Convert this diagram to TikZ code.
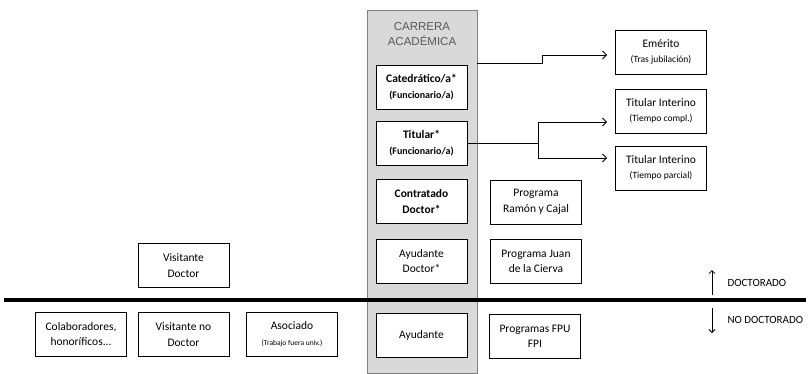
\documentclass[tikz,border=0pt]{standalone}
\usepackage{fontspec}
\setmainfont{Carlito}
\newfontfamily\titlefont{Liberation Sans}
\usetikzlibrary{arrows.meta}
\definecolor{colfill}{RGB}{217,217,217}
\definecolor{colline}{RGB}{128,128,128}
\definecolor{titlegray}{RGB}{89,89,89}
\newcommand{\nota}[1]{{\fontsize{9.5}{12}\selectfont #1}}
\newcommand{\notab}[1]{{\fontsize{10}{12}\selectfont\bfseries #1}}
\begin{document}
\begin{tikzpicture}[x=1pt,y=-1pt,
    cargo/.style={draw,fill=white,line width=0.8pt,minimum width=91pt,minimum height=44pt,
      inner sep=1pt,align=center,font=\fontsize{11.5}{15.5}\selectfont},
    columna/.style={draw=colline,fill=colfill,line width=0.8pt,minimum width=110pt,
      minimum height=363pt,inner sep=0pt},
    flecha/.style={-{Straight Barb[length=4pt,width=8pt]},line width=0.9pt},
    marca/.style={-{Straight Barb[length=3pt,width=6pt]},line width=0.8pt}]
  \useasboundingbox (0,0) rectangle (812,373);
  % carrera academica
  \node[columna] (carrera) at (422,191.5) {};
  \node[align=center,font=\titlefont\fontsize{11.5}{15.5}\selectfont,text=titlegray]
    (titulo) at (422,34) {CARRERA\\ACAD\'EMICA};
  \draw
    (421.5,87) node[cargo] (catedratico){\textbf{Catedr\'atico/a*}\\\notab{(Funcionario/a)}}
    (421.5,143) node[cargo] (titular){\textbf{Titular*}\\\notab{(Funcionario/a)}}
    (421.5,201.5) node[cargo] (contratado){\textbf{Contratado}\\\textbf{Doctor*}}
    (421.5,261) node[cargo] (ayudoctor){Ayudante\\Doctor*}
    (421.5,335.5) node[cargo] (ayudante){Ayudante};
  % programas
  \draw
    (536,202) node[cargo] (ramon){Programa\\Ram\'on y Cajal}
    (536,261.5) node[cargo] (juan){Programa Juan\\de la Cierva}
    (535,336.5) node[cargo] (fpu){Programas FPU\\FPI};
  % salidas
  \draw
    (661,52) node[cargo] (emerito){Em\'erito\\\nota{(Tras jubilaci\'on)}}
    (661,111) node[cargo] (intcompl){Titular Interino\\\nota{(Tiempo compl.)}}
    (661,168) node[cargo] (intparc){Titular Interino\\\nota{(Tiempo parcial)}};
  % otras figuras
  \draw
    (183.5,265.5) node[cargo] (visdoctor){Visitante\\Doctor}
    (81,334) node[cargo] (colab){Colaboradores,\\honor\'ificos...}
    (183.5,334.5) node[cargo] (visno){Visitante no\\Doctor}
    (292,334) node[cargo] (asociado){Asociado\\{\fontsize{7.5}{10}\selectfont(Trabajo fuera univ.)}};
  % linea del doctorado
  \draw[line width=3.5pt] (4,300) -- (806,300);
  \node[anchor=west,font=\fontsize{11}{12}\selectfont] (doctorado) at (724,282.5) {DOCTORADO};
  \node[anchor=west,font=\fontsize{11}{12}\selectfont] (nodoctorado) at (724,320) {NO DOCTORADO};
  \coordinate (sube) at (712,295);
  \coordinate (baja) at (712,308);
  \draw[marca] (sube) -- ++(0,-25);
  \draw[marca] (baja) -- ++(0,25);
  % conectores
  \coordinate (rama) at (538,143);
  \begin{scope}[flecha]
    \draw[shorten >=8pt] (carrera.east |- 0,63) -- (542,63) |- (emerito.west |- 0,55);
    \draw[shorten >=8pt] (rama |- 0,122) -- (intcompl.west |- 0,122);
    \draw[shorten >=8pt] (rama |- 0,158) -- (intparc.west |- 0,158);
  \end{scope}
  \draw[line width=0.9pt] (titular.east) -- (rama);
  \draw[line width=0.9pt] (rama |- 0,122) -- (rama |- 0,158);
\end{tikzpicture}
\end{document}
